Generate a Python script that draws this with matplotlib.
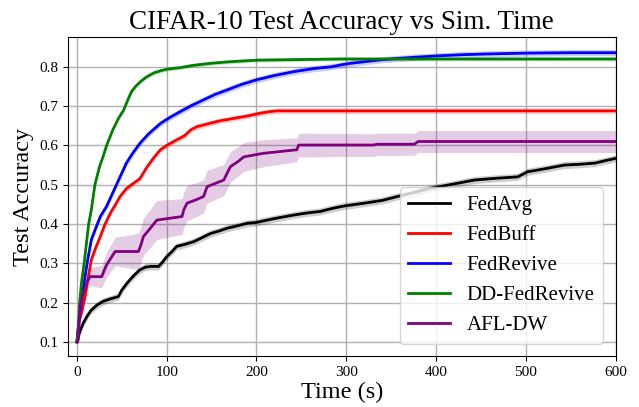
import matplotlib
matplotlib.use("Agg")
import matplotlib.pyplot as plt
import numpy as np

plt.rcParams['font.family'] = ['Liberation Serif', 'DejaVu Serif']

# FedAvg
t_avg = [0, 3, 7, 12, 16, 22, 29, 38, 46, 50, 56, 63, 70, 76, 82, 91, 96, 100, 106, 111, 120, 130, 140, 149, 158, 167, 178, 190, 200, 212, 225, 242, 256, 271, 285, 298, 320, 340, 357, 375, 394, 420, 443, 465, 491, 502, 520, 543, 560, 577, 590, 600]
v_avg = [0.10, 0.125, 0.148, 0.168, 0.181, 0.193, 0.203, 0.210, 0.215, 0.232, 0.250, 0.268, 0.283, 0.290, 0.292, 0.292, 0.305, 0.317, 0.330, 0.343, 0.348, 0.355, 0.366, 0.376, 0.382, 0.389, 0.395, 0.402, 0.404, 0.410, 0.416, 0.423, 0.428, 0.432, 0.440, 0.446, 0.453, 0.460, 0.470, 0.480, 0.491, 0.502, 0.512, 0.516, 0.520, 0.533, 0.540, 0.550, 0.552, 0.555, 0.562, 0.567]
s_avg = 0.009

# FedBuff
t_buff = [0, 2, 5, 9, 12, 16, 21, 26, 31, 37, 43, 48, 55, 62, 70, 78, 86, 93, 100, 111, 120, 127, 134, 141, 149, 160, 175, 190, 204, 215, 223, 600]
v_buff = [0.10, 0.150, 0.173, 0.215, 0.258, 0.309, 0.340, 0.368, 0.398, 0.427, 0.450, 0.470, 0.490, 0.502, 0.515, 0.545, 0.570, 0.589, 0.600, 0.614, 0.625, 0.640, 0.648, 0.652, 0.657, 0.663, 0.669, 0.675, 0.682, 0.686, 0.688, 0.688]
s_buff = 0.007

# FedRevive
t_rev = [0, 2, 4, 6, 9, 12, 16, 21, 26, 33, 40, 48, 55, 62, 70, 80, 93, 104, 115, 128, 141, 154, 167, 183, 200, 220, 242, 265, 283, 294, 305, 320, 339, 360, 380, 402, 430, 460, 502, 550, 600]
v_rev = [0.10, 0.150, 0.185, 0.220, 0.266, 0.310, 0.360, 0.390, 0.419, 0.445, 0.480, 0.520, 0.555, 0.580, 0.605, 0.630, 0.656, 0.672, 0.686, 0.702, 0.716, 0.730, 0.741, 0.755, 0.767, 0.778, 0.788, 0.796, 0.800, 0.805, 0.809, 0.813, 0.818, 0.822, 0.825, 0.828, 0.831, 0.833, 0.835, 0.836, 0.836]
s_rev = 0.008

# DD-FedRevive
t_dd = [0, 1.5, 3, 5, 8, 10, 13, 16, 20, 25, 29, 33, 40, 46, 52, 57, 61, 66, 72, 78, 86, 93, 100, 115, 130, 149, 170, 200, 230, 260, 294, 600]
v_dd = [0.10, 0.130, 0.200, 0.250, 0.300, 0.340, 0.400, 0.436, 0.500, 0.545, 0.571, 0.600, 0.640, 0.668, 0.690, 0.718, 0.738, 0.752, 0.765, 0.775, 0.785, 0.790, 0.794, 0.798, 0.804, 0.809, 0.813, 0.817, 0.818, 0.819, 0.820, 0.820]
s_dd = 0.005

# AFL-DW
t_afl = [0, 1.5, 3.4, 7, 11, 14.5, 27.6, 30, 33, 42.5, 68.5, 71, 74, 82, 89, 117, 119, 122.6, 132, 141, 145, 163.6, 167, 171, 180, 186, 208, 245, 247, 330, 335, 376, 380, 600]
v_afl = [0.10, 0.105, 0.190, 0.225, 0.250, 0.266, 0.266, 0.280, 0.296, 0.330, 0.330, 0.345, 0.368, 0.390, 0.410, 0.419, 0.436, 0.453, 0.461, 0.470, 0.495, 0.512, 0.528, 0.546, 0.560, 0.571, 0.580, 0.589, 0.601, 0.601, 0.603, 0.603, 0.610, 0.610]
s_afl_t = [0, 10, 30, 60, 90, 120, 160, 200, 250, 380, 600]
s_afl_v = [0.0, 0.02, 0.03, 0.045, 0.05, 0.045, 0.04, 0.035, 0.03, 0.028, 0.028]

labels = ['FedAvg', 'FedBuff', 'FedRevive', 'DD-FedRevive', 'AFL-DW']
colors = ['black', 'red', 'blue', 'green', 'purple']

fig = plt.figure(figsize=(6.39, 4.07), dpi=100)
ax = fig.add_axes([68/639, 1-356/407, (615.5-68)/639, (356-37)/407])

def draw(t, v, s, color, label):
    t = np.asarray(t, float); v = np.asarray(v, float)
    s = np.broadcast_to(np.asarray(s, float), v.shape)
    ax.fill_between(t, v - s, v + s, color=color, alpha=0.2, linewidth=0)
    ax.plot(t, v, color=color, lw=2, label=label)

draw(t_avg, v_avg, s_avg, colors[0], labels[0])
draw(t_buff, v_buff, s_buff, colors[1], labels[1])
draw(t_rev, v_rev, s_rev, colors[2], labels[2])
draw(t_dd, v_dd, s_dd, colors[3], labels[3])
s_afl = np.interp(t_afl, s_afl_t, s_afl_v)
draw(t_afl, v_afl, s_afl, colors[4], labels[4])

ax.set_xlim(-10, 600)
ax.set_ylim(0.064, 0.876)
ax.set_xticks([0, 100, 200, 300, 400, 500, 600])
ax.set_yticks([0.1, 0.2, 0.3, 0.4, 0.5, 0.6, 0.7, 0.8])
ax.tick_params(labelsize=11)
ax.grid(True, color='#b0b0b0', lw=1)
ax.set_axisbelow(True)
ax.set_title('CIFAR-10 Test Accuracy vs Sim. Time', fontsize=19.5)
ax.set_xlabel('Time (s)', fontsize=17.5, labelpad=2)
ax.set_ylabel('Test Accuracy', fontsize=17.5)
ax.legend(loc='lower right', fontsize=15, handlelength=2.0, borderaxespad=0.6)

fig.savefig('out.png', dpi=100)
